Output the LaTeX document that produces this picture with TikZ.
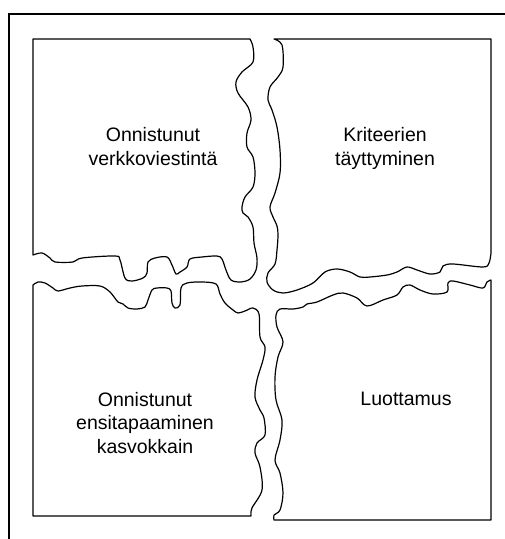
\documentclass[tikz,border=0pt]{standalone}
\usepackage{fontspec}
\setmainfont{Liberation Sans}
\begin{document}
\begin{tikzpicture}[x=1pt,y=-1pt,
  frame/.style={draw=black,line width=1.6pt},
  piece/.style={draw=black,line width=1.2pt,line join=round},
  lbl/.style={font=\fontsize{19.5}{23.5}\selectfont,align=center,inner sep=0pt,anchor=base}]
\useasboundingbox (0,0) rectangle (505,539);
% outer frame (clipped by the picture edges)
\draw[frame] (505,14) -- (9,14) -- (9,539);
% top-left piece
\draw[piece] (33,255) -- (33,39) -- (250,39) -- plot[smooth,tension=0.55] coordinates {
 (250,39) (253,47) (253,62) (242,72) (236,82) (238,93) (248,107) (251,120) (247,133)
 (247,147) (253,157) (255,173) (253,187) (245,197) (242,207) (243,213) (248,217)
 (253,227) (254,243) (257,258) (256,270) (250,279) (241,282) (231,280) (226,270)
 (222,259) (217,256) (202,257) (190,259) (187,267) (180,272) (176,274) (172,265)
 (167,257) (155,258) (148,262) (147,273) (143,278) (132,281) (125,278) (120,260)
 (115,256) (82,258) (73,262) (55,262) (50,258) (42,253) (33,255)} -- cycle;
% top-right piece
\draw[piece] (274,39) -- (491,39) -- (491,253) -- plot[smooth,tension=0.55] coordinates {
 (491,253) (489,263) (483,267) (453,264) (443,266) (440,272) (430,274) (417,270)
 (407,267) (397,272) (387,275) (370,277) (360,277) (350,272) (337,269) (325,272)
 (313,283) (297,290) (283,293) (273,290) (267,282) (268,273) (275,264) (277,250)
 (278,235) (277,226) (273,217) (270,207) (275,193) (280,173) (280,150) (277,127)
 (272,110) (268,100) (270,87) (278,77) (283,67) (282,45) (274,39)} -- cycle;
% bottom-left piece
\draw[piece] (251,516) -- (33,516) -- (33,285) -- plot[smooth,tension=0.55] coordinates {
 (33,285) (38,282) (45,283) (53,288) (58,291) (70,288) (82,286) (100,286) (110,292)
 (118,302) (123,304) (128,308) (137,309) (145,307) (148,300) (152,290) (157,288)
 (167,288) (171,291) (172,303) (175,308) (180,305) (181,288) (187,283) (202,282)
 (216,284) (220,294) (225,303) (233,310) (238,313) (245,311) (253,308) (259,314)
 (260,337) (265,347) (263,360) (257,380) (255,397) (260,410) (264,418) (265,435)
 (257,443) (255,453) (260,467) (262,490) (252,508) (251,516)} -- cycle;
% bottom-right piece
\draw[piece] (491,280) -- (491,520) -- (274,520) -- plot[smooth,tension=0.55] coordinates {
 (274,520) (274,515) (280,510) (283,493) (280,473) (275,460) (280,440) (282,420)
 (276,400) (275,377) (278,357) (283,342) (277,327) (276,315) (280,309) (293,309)
 (303,307) (307,304) (317,302) (333,295) (343,293) (357,298) (367,306) (383,300)
 (397,295) (403,287) (410,285) (420,290) (433,294) (447,292) (448,283) (453,281)
 (470,285) (483,288) (487,282) (491,280)} -- cycle;
% labels (base anchor = baseline of the last line)
\node[lbl] (tl) at (153,165) {Onnistunut\\verkkoviestintä};
\node[lbl] (tr) at (385,165) {Kriteerien\\täyttyminen};
\node[lbl] (bl) at (145,453) {Onnistunut\\ensitapaaminen\\kasvokkain};
\node[lbl] (br) at (406,405) {Luottamus};
\end{tikzpicture}
\end{document}
